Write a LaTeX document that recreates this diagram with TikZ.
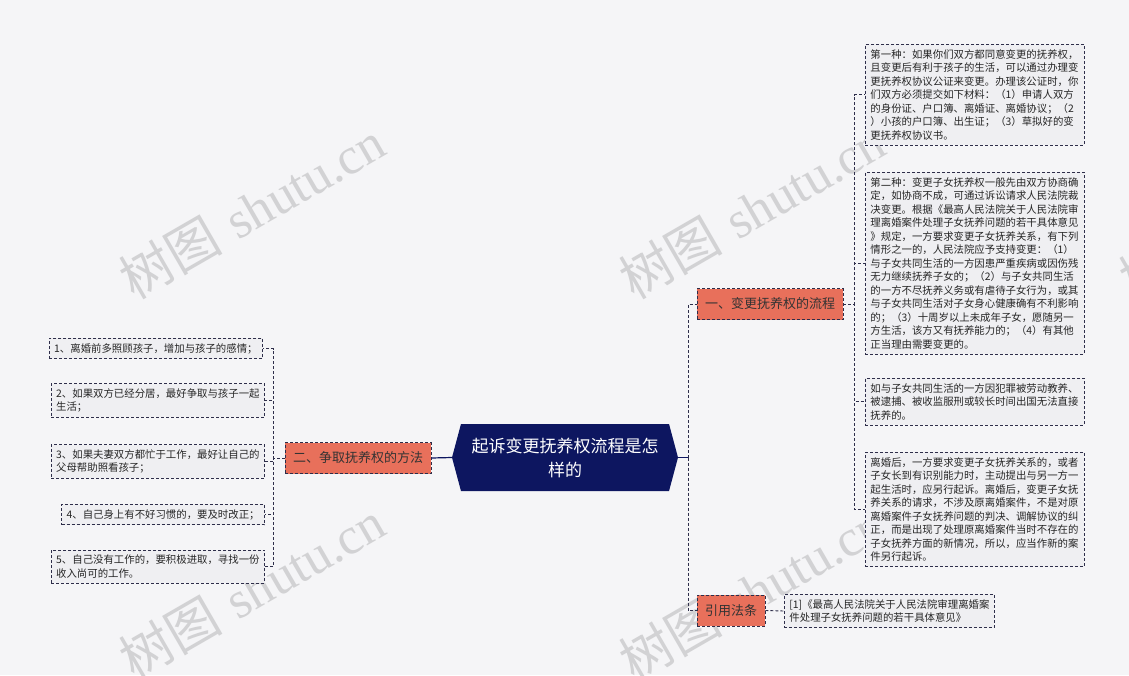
\documentclass[tikz,border=0pt]{standalone}
\usepackage{fontspec}
\newfontfamily\cjk{Noto Sans CJK SC}
\newfontfamily\wmlat{Liberation Serif}
\usetikzlibrary{positioning,shapes.symbols,calc}
\definecolor{bg}{HTML}{F5F5F7}
\definecolor{navy}{HTML}{0D1660}
\definecolor{salmon}{HTML}{E8705B}
\definecolor{edge}{HTML}{2E2E4A}
\definecolor{leaffill}{HTML}{EFEFF2}
\definecolor{wmgray}{HTML}{D2D2D4}

\begin{document}
\begin{tikzpicture}[x=1pt, y=-1pt,
  leaf/.style={draw=edge, dashed, dash pattern=on 3pt off 2pt, line width=0.9pt, fill=leaffill, align=left, inner sep=5pt, text=black!85, font=\cjk\fontsize{10.4}{13.5}\selectfont},
  wide/.style={leaf, text width=209pt},
  branch/.style={draw=edge, dashed, dash pattern=on 3pt off 2pt, line width=0.9pt, fill=salmon, text=black!80, inner xsep=8pt, minimum height=31pt, font=\cjk\fontsize{13}{16}\selectfont},
  root/.style={shape=signal, signal to=east and west, signal pointer angle=150, fill=navy, text=white, align=center, text width=192pt, minimum width=226pt, minimum height=67pt, font=\cjk\fontsize{17}{24}\selectfont},
  link/.style={draw=navy, line width=1.2pt},
  dlink/.style={draw=edge, dashed, dash pattern=on 3pt off 2pt, line width=0.9pt},
  wm/.style={text=wmgray, rotate=30, font=\fontsize{52}{54}\selectfont}]
\useasboundingbox (0,0) rectangle (1129,675);
\fill[bg] (0,0) rectangle (1129,675);

% watermarks, behind everything
\begin{scope}
\clip (0,0) rectangle (1129,675);
\foreach \p [count=\i] in {(252,210),(752,210),(252,590),(752,592),(1252,210)}
  \node[wm] (wm\i) at \p {{\cjk 树图} {\wmlat shutu.cn}};
\end{scope}

% root and main branches
\node[root] (c) at (565,457.5) {起诉变更抚养权流程是怎\\样的};
\node[branch] (b1) at (770,304) {一、变更抚养权的流程};
\node[branch] (b2) at (358,458) {二、争取抚养权的方法};
\node[branch] (b3) at (731,610.5) {引用法条};

% right leaves
\node[wide, anchor=north west] (r1) at (865,44) {第一种：如果你们双方都同意变更的抚养权，\\且变更后有利于孩子的生活，可以通过办理变\\更抚养权协议公证来变更。办理该公证时，你\\们双方必须提交如下材料：（1）申请人双方\\的身份证、户口簿、离婚证、离婚协议；（2\\）小孩的户口簿、出生证；（3）草拟好的变\\更抚养权协议书。};
\node[wide, anchor=north west] (r2) at (865,172) {第二种：变更子女抚养权一般先由双方协商确\\定，如协商不成，可通过诉讼请求人民法院裁\\决变更。根据《最高人民法院关于人民法院审\\理离婚案件处理子女抚养问题的若干具体意见\\》规定，一方要求变更子女抚养关系，有下列\\情形之一的，人民法院应予支持变更：（1）\\与子女共同生活的一方因患严重疾病或因伤残\\无力继续抚养子女的；（2）与子女共同生活\\的一方不尽抚养义务或有虐待子女行为，或其\\与子女共同生活对子女身心健康确有不利影响\\的；（3）十周岁以上未成年子女，愿随另一\\方生活，该方又有抚养能力的；（4）有其他\\正当理由需要变更的。};
\node[wide, anchor=north west] (r3) at (865,378) {如与子女共同生活的一方因犯罪被劳动教养、\\被逮捕、被收监服刑或较长时间出国无法直接\\抚养的。};
\node[wide, anchor=north west] (r4) at (865,452) {离婚后，一方要求变更子女抚养关系的，或者\\子女长到有识别能力时，主动提出与另一方一\\起生活时，应另行起诉。离婚后，变更子女抚\\养关系的请求，不涉及原离婚案件，不是对原\\离婚案件子女抚养问题的判决、调解协议的纠\\正，而是出现了处理原离婚案件当时不存在的\\子女抚养方面的新情况，所以，应当作新的案\\件另行起诉。};
\node[leaf, anchor=west] (ref) at (784,611) {[1]《最高人民法院关于人民法院审理离婚案\\件处理子女抚养问题的若干具体意见》};

% left leaves
\node[leaf, anchor=east] (l1) at (263,348.5) {1、离婚前多照顾孩子，增加与孩子的感情；};
\node[leaf, anchor=east] (l2) at (265,400.5) {2、如果双方已经分居，最好争取与孩子一起\\生活；};
\node[leaf, anchor=east] (l3) at (265,461.5) {3、如果夫妻双方都忙于工作，最好让自己的\\父母帮助照看孩子；};
\node[leaf, anchor=east] (l4) at (265,514.5) {4、自己身上有不好习惯的，要及时改正；};
\node[leaf, anchor=east] (l5) at (265,566.5) {5、自己没有工作的，要积极进取，寻找一份\\收入尚可的工作。};

% connectors
\draw[link] (c.east) -- ++(10,0) coordinate (t1);
\draw[dlink] (t1) |- (b1.west);
\draw[dlink] (t1) |- (b3.west);
\draw[link] (c.west) -- (b2.east);
\foreach \n in {r1,r2,r3,r4}
  \draw[dlink] (b1.east) -- ++(11,0) |- (\n.west);
\draw[dlink] (b3.east) -- (ref.west);
\foreach \n in {l1,l2,l3,l4,l5}
  \draw[dlink] (b2.west) -- ++(-11,0) |- (\n.east);
\end{tikzpicture}
\end{document}
